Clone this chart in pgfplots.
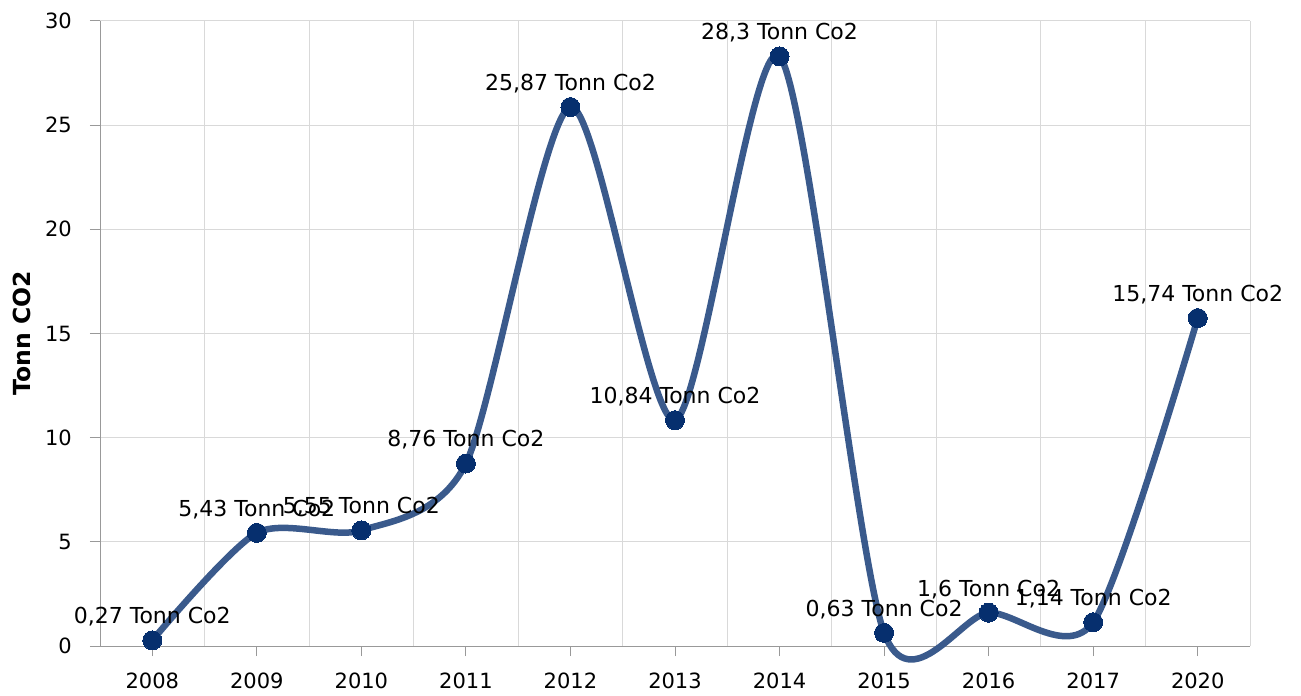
\documentclass[border=0pt]{standalone}
\usepackage{pgfplots}
\pgfplotsset{compat=1.18}
\usepackage{pgfplotstable}
\usepackage{fontspec}
\setmainfont{DejaVu Sans}
\definecolor{linec}{HTML}{3A5A8C}
\definecolor{markc}{HTML}{062F6E}
\definecolor{gridc}{HTML}{D9D9D9}
\definecolor{axc}{HTML}{999999}
\pgfplotstableread[col sep=semicolon]{
x;y;label
0;0.27;0,27 Tonn Co2
1;5.43;5,43 Tonn Co2
2;5.55;5,55 Tonn Co2
3;8.76;8,76 Tonn Co2
4;25.87;25,87 Tonn Co2
5;10.84;10,84 Tonn Co2
6;28.3;28,3 Tonn Co2
7;0.63;0,63 Tonn Co2
8;1.6;1,6 Tonn Co2
9;1.14;1,14 Tonn Co2
10;15.74;15,74 Tonn Co2
}\datatable
\begin{document}
\fontsize{21}{25}\selectfont
\begin{tikzpicture}
\begin{axis}[
  name=ax,
  scale only axis,
  width=1150pt, height=625pt,
  xmin=-0.5, xmax=10.5,
  ymin=0, ymax=30,
  axis x line=bottom, axis y line=left,
  axis line style={draw=axc, line width=1pt, -},
  xtick={0,...,10},
  xticklabels={2008,2009,2010,2011,2012,2013,2014,2015,2016,2017,2020},
  minor xtick={-0.5,0.5,...,10.5},
  xminorgrids=true,
  ytick={0,5,...,30},
  ymajorgrids=true,
  grid style={draw=gridc, line width=1pt},
  minor grid style={draw=gridc, line width=1pt},
  tick align=outside,
  major tick length=10pt,
  minor tick length=0pt,
  tick style={draw=axc, line width=1pt},
  x tick label style={yshift=-10pt},
  y tick label style={xshift=-11pt},
  /pgf/number format/assume math mode=true,
  ticklabel style={font=\fontsize{21}{25}\selectfont},
  ylabel={Tonn CO2},
  ylabel style={at={(axis description cs:-0.0675,0.5)}, anchor=center, rotate=0, font=\fontsize{23.5}{27}\selectfont\bfseries},
  clip=false,
]
\addplot[
  color=linec, line width=6.5pt, smooth, tension=0.45,
  mark=*, mark size=9.5pt, mark options={fill=markc, draw=markc, line width=0pt},
  point meta=explicit symbolic,
  nodes near coords={\pgfplotspointmeta},
  every node near coord/.style={anchor=south, yshift=14pt, text=black, font=\fontsize{22}{26}\selectfont, inner sep=0pt},
] table[x=x, y=y, meta=label] {\datatable};
\end{axis}
\pgfresetboundingbox
\path[use as bounding box] ([shift={(-100pt,-49pt)}]ax.south west) rectangle ([shift={(51pt,21pt)}]ax.north east);
\end{tikzpicture}
\end{document}
